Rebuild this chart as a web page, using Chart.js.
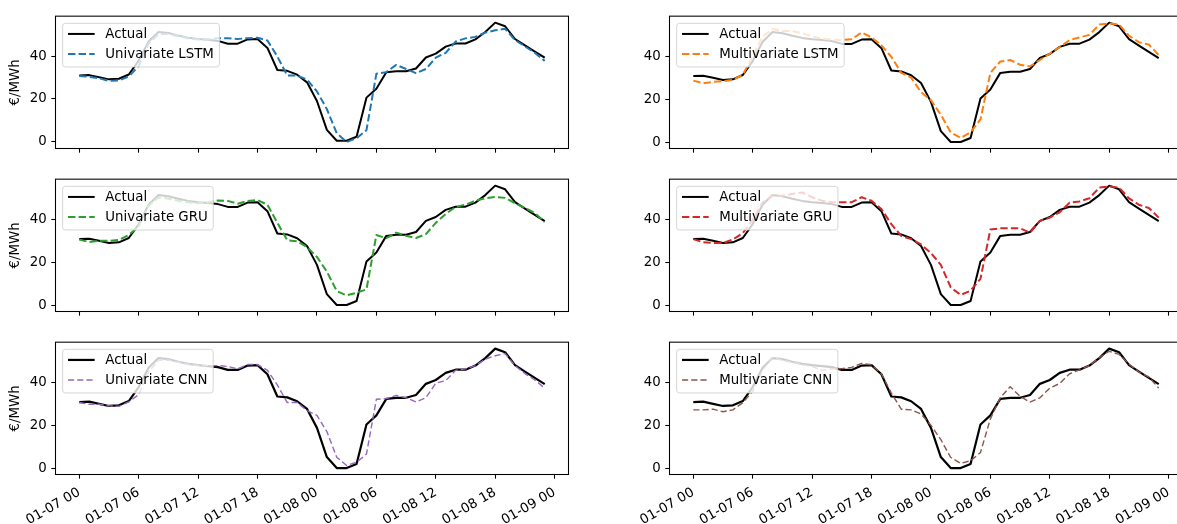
<!DOCTYPE html>
<html><head><meta charset="utf-8">
<script src="https://cdn.jsdelivr.net/npm/chart.js@4/dist/chart.umd.min.js"></script>
<style>
html,body{margin:0;padding:0;overflow:hidden;background:#fff;width:1177px;height:524px;position:relative;}
canvas{position:absolute;}
</style></head><body>
<canvas id="c0"></canvas><canvas id="c1"></canvas><canvas id="c2"></canvas>
<canvas id="c3"></canvas><canvas id="c4"></canvas><canvas id="c5"></canvas>
<script>
// ---------- data ----------
const hours = [0,1,2,3,4,5,6,7,8,9,10,11,12,13,14,15,16,17,18,19,20,21,22,23,24,25,26,27,28,29,30,31,32,33,34,35,36,37,38,39,40,41,42,43,44,45,46,47];
const xTickHours = [0,6,12,18,24,30,36,42,48];
const xTickLabels = ['01-07 00','01-07 06','01-07 12','01-07 18','01-08 00','01-08 06','01-08 12','01-08 18','01-09 00'];
const yTicks = [0,20,40];

const actual = [31.0,31.2,30.2,29.2,29.5,31.5,38.0,47.0,51.5,51.0,49.8,48.8,48.2,47.8,47.3,46.0,46.0,48.0,48.2,44.0,33.6,33.2,31.4,27.8,19.0,5.4,0.3,0.3,2.2,20.6,24.8,32.5,33.0,33.0,34.3,39.5,41.3,44.6,46.1,46.1,48.0,51.5,55.9,54.2,48.2,45.2,42.3,39.4];
const univariateLSTM = [30.8,30.4,29.7,28.5,28.7,30.5,35.5,46.0,50.5,50.5,49.5,48.6,48.0,48.0,48.6,48.6,48.2,48.6,48.8,47.5,40.0,31.0,31.0,29.1,23.5,15.2,3.8,-0.3,1.5,5.3,31.8,32.6,36.0,34.1,32.1,34.1,39.4,41.7,47.0,48.5,49.2,51.2,52.3,53.0,47.7,44.7,41.7,37.9];
const multivariateLSTM = [28.9,27.7,28.3,28.6,29.2,31.6,40.0,49.5,52.9,52.0,52.0,51.0,49.5,48.4,48.0,47.8,48.2,51.3,49.0,45.3,40.0,32.5,30.3,23.5,19.8,13.0,4.8,2.2,4.8,10.8,32.5,37.8,38.5,36.3,35.5,38.5,41.5,44.5,47.8,49.0,50.2,55.0,55.5,55.0,49.8,46.8,45.7,40.8];
const univariateGRU = [30.8,29.6,30.3,30.2,30.6,32.9,37.0,46.5,50.5,49.8,48.9,48.2,47.7,48.2,49.0,48.8,47.5,48.8,49.2,47.0,38.6,30.5,30.0,27.3,22.7,15.9,6.8,4.8,6.0,7.6,32.9,31.4,34.0,32.6,31.5,33.3,38.6,42.7,46.0,47.0,48.9,50.0,50.6,50.2,47.7,45.5,43.2,38.9];
const multivariateGRU = [31.0,29.5,29.2,29.2,30.8,33.8,40.0,48.0,51.2,51.2,52.0,52.7,50.5,48.9,48.2,48.2,48.2,50.5,48.9,45.0,38.0,32.5,31.0,28.5,24.5,19.0,8.5,5.0,7.0,12.5,35.5,36.0,36.0,36.0,34.0,39.5,41.0,43.5,48.0,48.5,50.0,55.0,55.5,55.0,50.0,47.0,45.5,41.0];
const univariateCNN = [30.8,30.0,30.0,29.3,29.0,31.1,34.5,45.0,50.5,50.5,49.5,48.5,48.0,48.0,48.0,47.6,46.5,48.5,48.5,45.8,39.0,30.8,30.8,27.0,24.8,17.3,5.3,1.5,3.0,6.8,32.3,32.6,34.1,33.0,31.1,33.0,39.8,41.0,45.8,46.5,48.0,51.0,52.6,53.6,48.0,44.3,41.3,37.5];
const multivariateCNN = [27.4,27.4,27.7,26.5,27.4,30.7,36.0,46.0,51.7,50.5,49.5,48.5,47.6,45.8,46.5,46.6,47.2,49.0,48.4,44.2,35.2,27.7,27.4,25.5,20.2,13.5,5.2,2.5,3.7,7.5,23.2,33.0,38.2,33.7,31.0,33.0,37.5,39.7,44.2,46.0,48.0,51.7,54.7,53.2,48.7,45.0,42.7,37.5];

// ---------- panel setup ----------
const panels = [
  {id:'c0', row:0, col:0, label:'Univariate LSTM',   values:univariateLSTM,   color:'#1f77b4', kind:'thick'},
  {id:'c1', row:0, col:1, label:'Multivariate LSTM', values:multivariateLSTM, color:'#ff7f0e', kind:'thick'},
  {id:'c2', row:1, col:0, label:'Univariate GRU',    values:univariateGRU,    color:'#2ca02c', kind:'thick'},
  {id:'c3', row:1, col:1, label:'Multivariate GRU',  values:multivariateGRU,  color:'#d62728', kind:'thick'},
  {id:'c4', row:2, col:0, label:'Univariate CNN',    values:univariateCNN,    color:'#9467bd', kind:'thin'},
  {id:'c5', row:2, col:1, label:'Multivariate CNN',  values:multivariateCNN,  color:'#8c564b', kind:'thin'}
];

const FS = 13.33;
const FAM = "'DejaVu Sans', sans-serif";
const colCanvasLeft = [0, 614];
const rowPlotTop = [12, 175, 338];
const PLOT_H = 136;
const Y_AXIS_W = 56, PAD_T = 8, PAD_R = 12, CANVAS_W = 580;

const mplPlugin = {
  id: 'mplFrameLegend',
  afterDatasetsDraw(chart) {
    const ctx = chart.ctx, a = chart.chartArea;
    ctx.save();
    ctx.strokeStyle = '#000';
    ctx.lineWidth = 1.07;
    ctx.setLineDash([]);
    ctx.strokeRect(a.left - 0.5, a.top - 0.5, a.right - a.left + 1, a.bottom - a.top + 1);
    // legend
    const items = chart.options.plugins.mplFrameLegend.items;
    ctx.font = FS + 'px ' + FAM;
    const tw = Math.max(...items.map(i => ctx.measureText(i.label).width));
    const x0 = a.left + 6.67, y0 = a.top + 6.67;
    const w = 42.67 + tw + 5.6, h = 43.6, r = 2.7;
    ctx.beginPath();
    ctx.moveTo(x0 + r, y0);
    ctx.lineTo(x0 + w - r, y0); ctx.arcTo(x0 + w, y0, x0 + w, y0 + r, r);
    ctx.lineTo(x0 + w, y0 + h - r); ctx.arcTo(x0 + w, y0 + h, x0 + w - r, y0 + h, r);
    ctx.lineTo(x0 + r, y0 + h); ctx.arcTo(x0, y0 + h, x0, y0 + h - r, r);
    ctx.lineTo(x0, y0 + r); ctx.arcTo(x0, y0, x0 + r, y0, r);
    ctx.closePath();
    ctx.fillStyle = 'rgba(255,255,255,0.8)';
    ctx.fill();
    ctx.strokeStyle = 'rgba(204,204,204,0.8)';
    ctx.lineWidth = 1;
    ctx.stroke();
    items.forEach((it, i) => {
      const cy = y0 + 10.6 + i * 20;
      ctx.beginPath();
      ctx.strokeStyle = it.color;
      ctx.lineWidth = it.width;
      ctx.setLineDash(it.dash || []);
      ctx.moveTo(x0 + 5.33, cy);
      ctx.lineTo(x0 + 32, cy);
      ctx.stroke();
      ctx.setLineDash([]);
      ctx.fillStyle = '#000';
      ctx.textBaseline = 'middle';
      ctx.textAlign = 'left';
      ctx.fillText(it.label, x0 + 42.67, cy + 0.5);
    });
    ctx.restore();
  }
};

panels.forEach(p => {
  const cv = document.getElementById(p.id);
  const xAxisH = p.row === 2 ? 66 : 14;
  const H = PAD_T + PLOT_H + xAxisH;
  cv.width = CANVAS_W; cv.height = H;
  cv.style.width = CANVAS_W + 'px'; cv.style.height = H + 'px';
  cv.style.left = colCanvasLeft[p.col] + 'px';
  cv.style.top = (rowPlotTop[p.row] - PAD_T) + 'px';

  const all = actual.concat(p.values);
  const lo = Math.min(...all), hi = Math.max(...all), pad = 0.05 * (hi - lo);
  const xlo = hours[0], xhi = hours[hours.length - 1], xpad = 0.05 * (xhi - xlo);

  const thick = p.kind === 'thick';
  const modelW = thick ? 2 : 1.4;
  const modelDash = thick ? [7.4, 3.2] : [6.2, 3.0];
  const actualW = thick ? 2 : 2.2;

  new Chart(cv, {
    type: 'line',
    data: {
      datasets: [
        {label: 'Actual', data: hours.map((h, i) => ({x: h, y: actual[i]})),
         borderColor: '#000', borderWidth: actualW, pointRadius: 0, tension: 0, order: 1, borderJoinStyle: 'round'},
        {label: p.label, data: hours.map((h, i) => ({x: h, y: p.values[i]})),
         borderColor: p.color, borderWidth: modelW, borderDash: modelDash, pointRadius: 0, tension: 0, order: 0, borderJoinStyle: 'round'}
      ]
    },
    options: {
      responsive: false, animation: false, devicePixelRatio: 1,
      layout: {padding: {top: PAD_T, right: PAD_R, bottom: 0, left: 0}},
      plugins: {
        legend: {display: false}, tooltip: {enabled: false},
        mplFrameLegend: {items: [
          {label: 'Actual', color: '#000', width: actualW, dash: null},
          {label: p.label, color: p.color, width: modelW, dash: modelDash}
        ]}
      },
      scales: {
        x: {
          type: 'linear', min: xlo - xpad, max: xhi + xpad,
          afterBuildTicks: s => { s.ticks = xTickHours.map(v => ({value: v})); },
          afterFit: s => { s.height = xAxisH; },
          border: {display: false},
          grid: {drawOnChartArea: false, drawTicks: true, tickLength: 4.67, tickColor: '#000', tickWidth: 1.07},
          ticks: {
            display: p.row === 2, autoSkip: false, minRotation: 30, maxRotation: 30, padding: 6,
            color: '#000', font: {family: FAM, size: FS},
            callback: v => xTickLabels[xTickHours.indexOf(v)]
          }
        },
        y: {
          type: 'linear', min: lo - pad, max: hi + pad,
          afterBuildTicks: s => { s.ticks = yTicks.map(v => ({value: v})); },
          afterFit: s => { s.width = Y_AXIS_W; },
          border: {display: false},
          grid: {drawOnChartArea: false, drawTicks: true, tickLength: 4.67, tickColor: '#000', tickWidth: 1.07},
          ticks: {padding: 4.67, color: '#000', font: {family: FAM, size: FS}, callback: v => String(v)},
          title: {display: p.col === 0, text: '€/MWh', color: '#000', font: {family: FAM, size: FS}, padding: {top: 7.3, bottom: 0}}
        }
      }
    },
    plugins: [mplPlugin]
  });
});
</script>
</body></html>
